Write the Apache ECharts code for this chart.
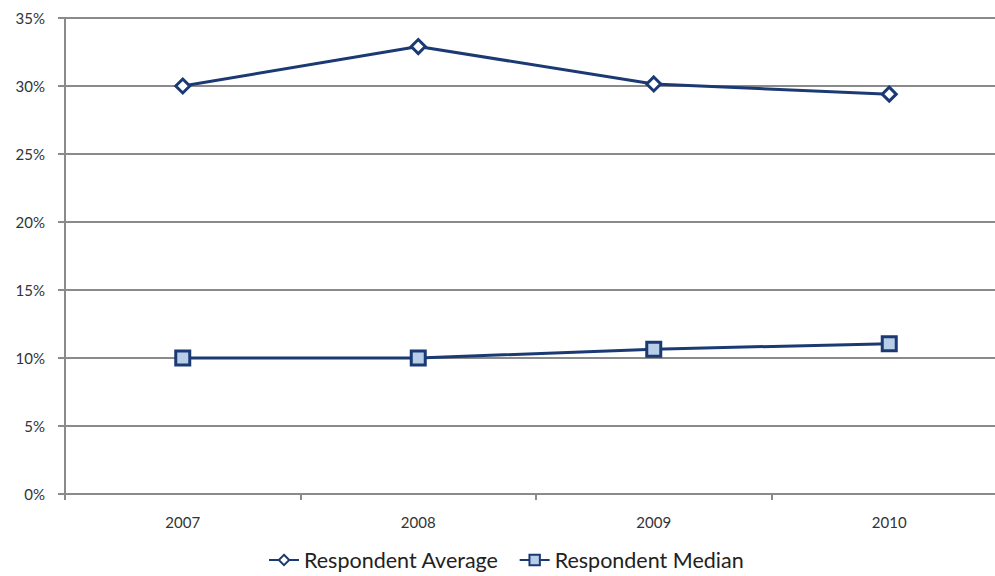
<!doctype html>
<html lang="en">
<head>
<meta charset="utf-8"/>
<title>Respondent average vs median</title>
<style>
  html, body { margin: 0; padding: 0; background: #fff; overflow: hidden; }
  /* the plot runs past the right edge of the picture, so the canvas is wider than the window */
  #chart { width: 1010px; height: 576px; }
</style>
</head>
<body>
<div id="chart"></div>
<script src="https://cdn.jsdelivr.net/npm/echarts@6/dist/echarts.min.js"></script>
<script>
  const years = ["2007", "2008", "2009", "2010"];
  const respondentAverage = [30.0, 32.9, 30.15, 29.4];
  const respondentMedian = [10.0, 10.0, 10.65, 11.05];

  const navy = "#1b3a74";
  const gridGray = "#8a8a8a";
  const font = "Lato, 'Open Sans', sans-serif";

  const chart = echarts.init(document.getElementById("chart"), null, { renderer: "svg" });
  chart.setOption({
    animation: false,
    textStyle: { fontFamily: font },
    grid: { left: 65, right: 3, top: 18, bottom: 82, containLabel: false },
    legend: {
      bottom: 0,
      left: 263,
      itemGap: 20,
      itemWidth: 30,
      itemHeight: 13,
      textStyle: { fontSize: 21.5, color: "#222", fontFamily: font },
      data: ["Respondent Average", "Respondent Median"],
    },
    xAxis: {
      type: "category",
      data: years,
      boundaryGap: true,
      axisLine: { lineStyle: { color: gridGray, width: 2 } },
      axisTick: { show: true, length: 6, lineStyle: { color: gridGray, width: 2 } },
      axisLabel: { color: "#333", fontSize: 15, margin: 20 },
    },
    yAxis: {
      type: "value",
      min: 0,
      max: 35,
      interval: 5,
      axisLine: { show: true, lineStyle: { color: gridGray, width: 2 } },
      axisTick: { show: true, length: 7, lineStyle: { color: gridGray, width: 2 } },
      axisLabel: { color: "#333", fontSize: 15, margin: 20, formatter: "{value}%" },
      splitLine: { lineStyle: { color: gridGray, width: 2 } },
    },
    series: [
      {
        name: "Respondent Average",
        type: "line",
        data: respondentAverage,
        symbol: "diamond",
        symbolSize: 14,
        lineStyle: { color: navy, width: 3 },
        itemStyle: { color: "#ffffff", borderColor: navy, borderWidth: 3 },
      },
      {
        name: "Respondent Median",
        type: "line",
        data: respondentMedian,
        symbol: "rect",
        symbolSize: 14,
        lineStyle: { color: navy, width: 3 },
        itemStyle: { color: "#b7cde8", borderColor: navy, borderWidth: 3 },
      },
    ],
  });
</script>
</body>
</html>
